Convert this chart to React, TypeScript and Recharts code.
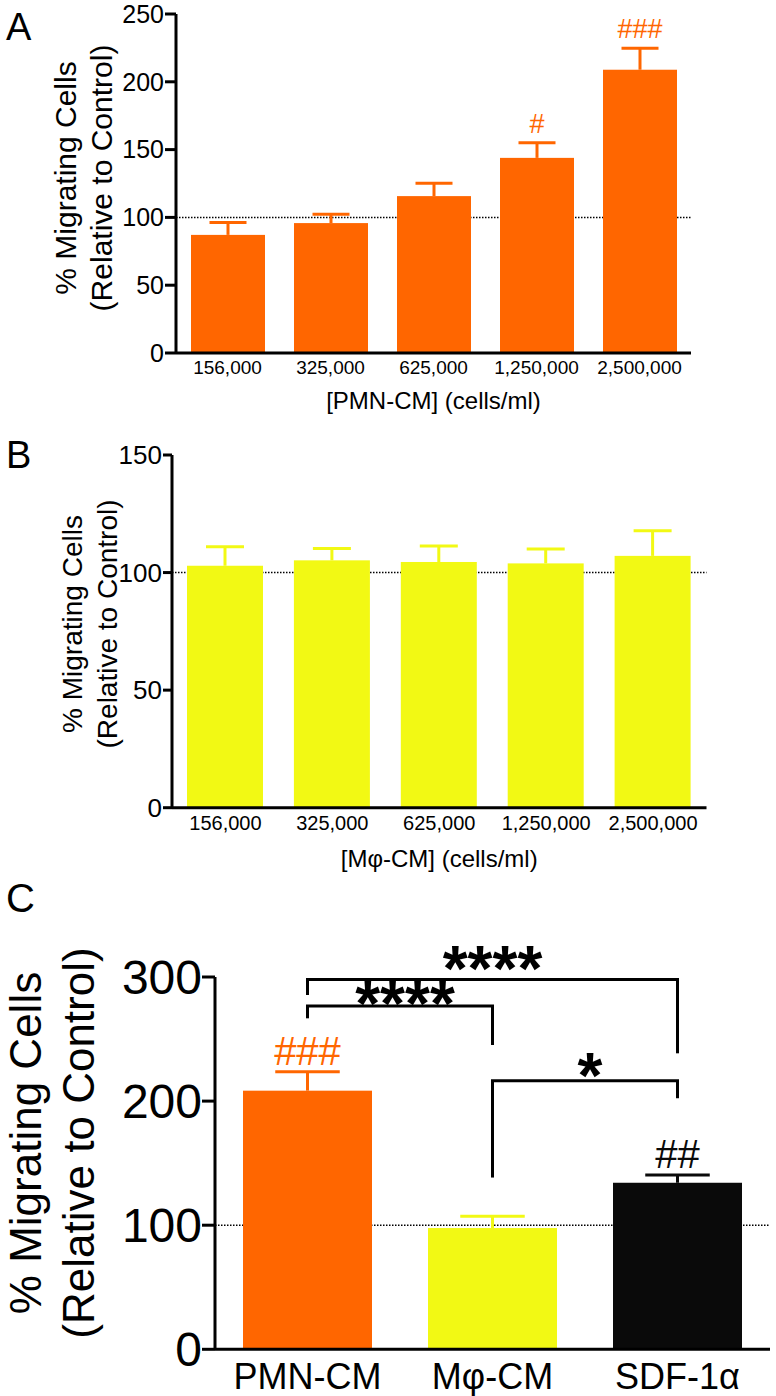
import React from "react";
import { BarChart, Bar, XAxis, YAxis, Cell, ReferenceLine, CartesianGrid } from "recharts";

const FONT = '"Liberation Sans", Arial, Helvetica, sans-serif';
const ORANGE = "#FF6600";
const YELLOW = "#F2F914";
const BLACK = "#0A0A0A";

// A: PMN conditioned medium dose response
const pmnDoses = ["156,000", "325,000", "625,000", "1,250,000", "2,500,000"];
const pmnMeans = [87.1, 95.8, 115.7, 143.9, 208.9];
const pmnSem = [9.2, 6.6, 9.5, 11.1, 15.8];
const pmnMarks = ["", "", "", "#", "###"];

// B: macrophage conditioned medium dose response
const mphiDoses = ["156,000", "325,000", "625,000", "1,250,000", "2,500,000"];
const mphiMeans = [102.9, 105.2, 104.5, 103.9, 107.1];
const mphiSem = [8.1, 5.0, 6.8, 6.1, 10.7];

// C: comparison at highest dose
const groups = ["PMN-CM", "Mφ-CM", "SDF-1α"];
const groupMeans = [208.4, 97.7, 134.2];
const groupSem = [15.3, 9.5, 6.2];
const groupMarks = ["###", "", "##"];
const groupColors = [ORANGE, YELLOW, BLACK];

// significance brackets in C (values in % units)
const bracketFrom = ["PMN-CM", "PMN-CM", "Mφ-CM"];
const bracketTo = ["SDF-1α", "Mφ-CM", "SDF-1α"];
const bracketLevel = [298, 276.6, 216.4];
const bracketFromEnd = [285.5, 266.7, 138.4];
const bracketToEnd = [238.5, 245.2, 202.3];
const bracketStars = ["****", "****", "*"];

const ticksA = [0, 50, 100, 150, 200, 250];
const ticksB = [0, 50, 100, 150];
const ticksC = [0, 100, 200, 300];
const controlLevel = 100;

const rowsA = pmnDoses.map((d, i) => ({ name: d, mean: pmnMeans[i], sem: pmnSem[i], mark: pmnMarks[i] }));
const rowsB = mphiDoses.map((d, i) => ({ name: d, mean: mphiMeans[i], sem: mphiSem[i], mark: "" }));
const rowsC = groups.map((g, i) => ({ name: g, mean: groupMeans[i], sem: groupSem[i], mark: groupMarks[i] }));

// bar with upward-only SEM whisker and significance mark, sized from the bar's own scale
function barShape(markSize: number, markGap: number) {
  return (props: any) => {
    const { x, y, width, height, fill, payload } = props;
    const ppu = height / payload.mean;
    const top = y - payload.sem * ppu;
    const cx = x + width / 2;
    const cap = width / 4;
    return (
      <g>
        <rect x={x} y={y} width={width} height={height} fill={fill} />
        <line x1={cx} y1={y} x2={cx} y2={top} stroke={fill} strokeWidth={3} />
        <line x1={cx - cap} y1={top} x2={cx + cap} y2={top} stroke={fill} strokeWidth={3} />
        {payload.mark ? (
          <text x={cx} y={top - markGap} textAnchor="middle" fontSize={markSize} fill={fill}>
            {payload.mark}
          </text>
        ) : null}
      </g>
    );
  };
}

// dotted control line, drawn as a grid line so it sits behind the bars
const controlLine = (yMax: number) => (p: any) => {
  const o = p && p.offset;
  return o ? [o.top + o.height * (1 - controlLevel / yMax)] : [];
};

function yTitle(size: number, x1: number, x2: number, cy: number) {
  return () => (
    <g>
      <text transform={`translate(${x1},${cy}) rotate(-90)`} textAnchor="middle" fontSize={size} fill="#000">
        % Migrating Cells
      </text>
      <text transform={`translate(${x2},${cy}) rotate(-90)`} textAnchor="middle" fontSize={size} fill="#000">
        (Relative to Control)
      </text>
    </g>
  );
}

function xTitle(text: string, size: number, dy: number) {
  return (p: any) => {
    const vb = p.viewBox || { x: 0, y: 0, width: 0 };
    return (
      <text x={vb.x + vb.width / 2} y={vb.y + dy} textAnchor="middle" fontSize={size} fill="#000">
        {text}
      </text>
    );
  };
}

const axisStroke = { stroke: "#000", strokeWidth: 3 };
const dotted = { stroke: "#000", strokeWidth: 1.5, strokeDasharray: "1.5 1.5" };

export default function App() {
  const starDy = [12, 20, 17];
  return (
    <div style={{ position: "absolute", left: 0, top: 0, width: 776, height: 1396, background: "#fff", fontFamily: FONT }}>
      <div style={{ position: "absolute", left: 0, top: 0 }}>
        <BarChart width={776} height={440} data={rowsA} margin={{ top: 14, right: 85, bottom: 57, left: 116 }}>
          <CartesianGrid vertical={false} {...dotted} horizontalCoordinatesGenerator={controlLine(250)} />
          <XAxis dataKey="name" height={30} axisLine={axisStroke} tickLine={false} tick={{ fill: "#000", fontSize: 19 }} interval={0}
            label={xTitle("[PMN-CM] (cells/ml)", 24, 56)} />
          <YAxis domain={[0, 250]} ticks={ticksA} width={60} tickSize={11} tickMargin={1} axisLine={axisStroke} tickLine={axisStroke}
            tick={{ fill: "#000", fontSize: 25 }} interval={0} label={yTitle(30, 76, 112, 178)} />
          <Bar dataKey="mean" fill={ORANGE} barSize={74} isAnimationActive={false} shape={barShape(27, 10)} />
        </BarChart>
      </div>
      <div style={{ position: "absolute", left: 0, top: 440 }}>
        <BarChart width={776} height={440} data={rowsB} margin={{ top: 15, right: 69.5, bottom: 42.3, left: 112 }}>
          <CartesianGrid vertical={false} {...dotted} horizontalCoordinatesGenerator={controlLine(150)} />
          <XAxis dataKey="name" height={30} axisLine={axisStroke} tickLine={false} tick={{ fill: "#000", fontSize: 20 }} interval={0}
            label={xTitle("[Mφ-CM] (cells/ml)", 24, 59)} />
          <YAxis domain={[0, 150]} ticks={ticksB} width={60} tickSize={9} tickMargin={1} axisLine={axisStroke} tickLine={axisStroke}
            tick={{ fill: "#000", fontSize: 26 }} interval={0} label={yTitle(28, 82, 117, 184)} />
          <Bar dataKey="mean" fill={YELLOW} barSize={76} isAnimationActive={false} shape={barShape(27, 10)} />
        </BarChart>
      </div>
      <div style={{ position: "absolute", left: 0, top: 880 }}>
        <BarChart width={776} height={516} data={rowsC} margin={{ top: 97, right: 6, bottom: 2.7, left: 125 }}>
          <CartesianGrid vertical={false} {...dotted} horizontalCoordinatesGenerator={controlLine(300)} />
          <XAxis dataKey="name" height={44} axisLine={axisStroke} tickLine={false} tickMargin={8} tick={{ fill: "#000", fontSize: 36 }} interval={0} />
          <YAxis domain={[0, 300]} ticks={ticksC} width={90} tickSize={13} tickMargin={0} axisLine={axisStroke} tickLine={axisStroke}
            tick={{ fill: "#000", fontSize: 48 }} interval={0} label={yTitle(44, 41, 94, 263)} />
          <Bar dataKey="mean" barSize={129} isAnimationActive={false} shape={barShape(40, 7)}>
            {rowsC.map((r, i) => (
              <Cell key={r.name} fill={groupColors[i]} />
            ))}
          </Bar>
          {bracketLevel.map((lvl, i) => (
            <ReferenceLine key={`h${i}`} ifOverflow="visible" stroke="#000" strokeWidth={3} strokeLinecap="square"
              segment={[{ x: bracketFrom[i], y: lvl }, { x: bracketTo[i], y: lvl }]}
              label={(p: any) => {
                const vb = p.viewBox || { x: 0, y: 0, width: 0 };
                return (
                  <text x={vb.x + vb.width / 2 + (i === 0 ? 0 : 5)} y={vb.y + starDy[i]} textAnchor="middle" fontSize={64} fontWeight="bold" fill="#000">
                    {bracketStars[i]}
                  </text>
                );
              }} />
          ))}
          {bracketLevel.map((lvl, i) => (
            <ReferenceLine key={`l${i}`} ifOverflow="visible" stroke="#000" strokeWidth={3}
              segment={[{ x: bracketFrom[i], y: lvl }, { x: bracketFrom[i], y: bracketFromEnd[i] }]} />
          ))}
          {bracketLevel.map((lvl, i) => (
            <ReferenceLine key={`r${i}`} ifOverflow="visible" stroke="#000" strokeWidth={3}
              segment={[{ x: bracketTo[i], y: lvl }, { x: bracketTo[i], y: bracketToEnd[i] }]} />
          ))}
        </BarChart>
      </div>
      <svg width={776} height={1396} style={{ position: "absolute", left: 0, top: 0, pointerEvents: "none" }}>
        <text x={6} y={40} fontSize={38} fill="#000">A</text>
        <text x={6} y={468} fontSize={38} fill="#000">B</text>
        <text x={6} y={912} fontSize={40} fill="#000">C</text>
      </svg>
    </div>
  );
}
